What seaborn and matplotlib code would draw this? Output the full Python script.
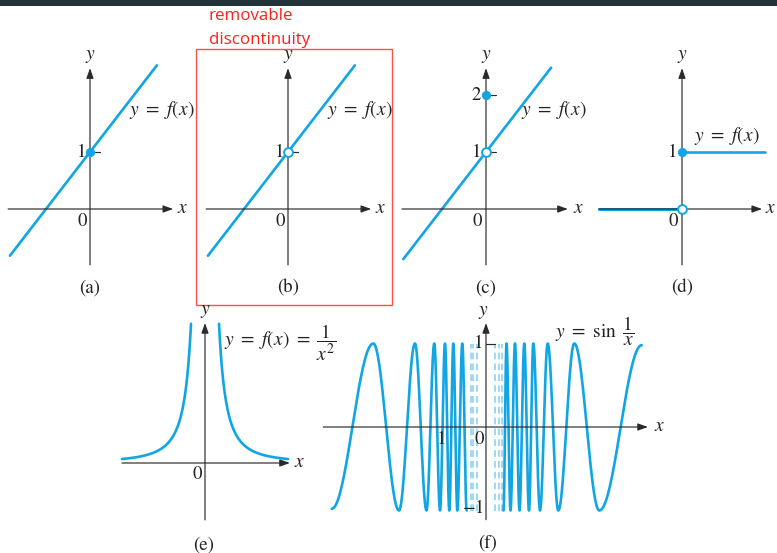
import numpy as np
import matplotlib
matplotlib.use("Agg")
import matplotlib.pyplot as plt
import seaborn as sns
from matplotlib.patches import Rectangle

sns.set_theme(style="white")
plt.rcParams["font.family"] = ["STIXGeneral", "DejaVu Serif"]
plt.rcParams["mathtext.fontset"] = "stix"

W, H = 777, 553
BLUE = "#12a5e3"
LIGHT = "#8fd2f1"
INK = "#2a2a2a"
RED = "#ff1f1f"

# ---- data -------------------------------------------------------------
# (a)-(c): y = x + 1 drawn between these end points
a_line_x = [-1.82, 1.52]
a_line_y = [-0.82, 2.52]
b_line_x = [-1.82, 1.52]
b_line_y = [-0.82, 2.52]
c_line_x = [-1.88, 1.48]
c_line_y = [-0.88, 2.48]

a_closed_x, a_closed_y = [0], [1]
b_open_x, b_open_y = [0], [1]
c_open_x, c_open_y = [0], [1]
c_closed_x, c_closed_y = [0], [2]

# (d): step function
d_left_x, d_left_y = [-1.89, 0.0], [0, 0]
d_right_x, d_right_y = [0.0, 1.89], [1, 1]
d_open_x, d_open_y = [0], [0]
d_closed_x, d_closed_y = [0], [1]

# (e): y = 1/x^2 on inner..outer on both sides of 0
e_inner, e_outer = 0.465, 2.76

# (f): turning points of the oscillating curve
f_left_x = [-3.507, -2.561, -1.977, -1.614, -1.352, -1.175, -1.045, -0.932,
            -0.834, -0.743, -0.652, -0.539, -0.439]
f_left_y = [-0.98, 1, -1, 1, -1, 1, -1, 1, -1, 1, -1, 1, -1]
f_right_x = [0.398, 0.466, 0.557, 0.659, 0.761, 0.870, 0.977, 1.075, 1.227,
             1.402, 1.643, 2.007, 2.575, 3.539]
f_right_y = [-1, 1, -1, 1, -1, 1, -1, 1, -1, 1, -1, 1, -1, 0.98]
f_dash_x = [-0.35, -0.285, -0.20, 0.20, 0.285, 0.36]

# ---- layout helpers ---------------------------------------------------
fig = plt.figure(figsize=(W / 100, H / 100), dpi=100)
fig.patch.set_facecolor("white")


def panel(box, origin, unit):
    left, top, right, bottom = box
    ox, oy = origin
    ux, uy = unit
    ax = fig.add_axes([left / W, 1 - bottom / H, (right - left) / W, (bottom - top) / H])
    ax.set_xlim((left - ox) / ux, (right - ox) / ux)
    ax.set_ylim((oy - bottom) / uy, (oy - top) / uy)
    ax.axis("off")
    ax.patch.set_alpha(0)
    return ax


def axes_arrows(ax, xr, yr, z=3):
    style = "-|>,head_length=0.5,head_width=0.18"
    ax.annotate("", xy=(xr[1], 0), xytext=(xr[0], 0),
                arrowprops=dict(arrowstyle=style, color=INK, lw=0.85,
                                shrinkA=0, shrinkB=0), zorder=z)
    ax.annotate("", xy=(0, yr[1]), xytext=(0, yr[0]),
                arrowprops=dict(arrowstyle=style, color=INK, lw=0.85,
                                shrinkA=0, shrinkB=0), zorder=z)


def tick(ax, x0, x1, y):
    ax.plot([x0, x1], [y, y], color=INK, lw=0.85, zorder=3)


def txt(px, py, s, size=13, ha="center", va="center", **kw):
    fig.text(px / W, 1 - py / H, s, size=size, ha=ha, va=va, color="#222222", **kw)


def curve(ax, x, y, lw=1.9, z=2):
    sns.lineplot(x=x, y=y, ax=ax, color=BLUE, lw=lw, sort=False,
                 estimator=None, legend=False, zorder=z)


def closed_pt(ax, x, y):
    sns.scatterplot(x=x, y=y, ax=ax, s=44, color=BLUE, edgecolor=BLUE,
                    linewidth=0, zorder=6, legend=False)


def open_pt(ax, x, y):
    sns.scatterplot(x=x, y=y, ax=ax, s=40, color="white", edgecolor=BLUE,
                    linewidth=1.4, zorder=6, legend=False)


def eased(xs, ys, n=40):
    ox, oy = [], []
    for i in range(len(xs) - 1):
        t = np.linspace(0, 1, n, endpoint=False)
        ox.append(xs[i] + (xs[i + 1] - xs[i]) * t)
        oy.append(ys[i] + (ys[i + 1] - ys[i]) * (1 - np.cos(np.pi * t)) / 2)
    ox.append([xs[-1]])
    oy.append([ys[-1]])
    return np.concatenate(ox), np.concatenate(oy)


FX = r"$y\ =\ f(x)$"
NUM = 13.5
LET = 14

# ---- top bar ----------------------------------------------------------
fig.patches.append(Rectangle((0, 1 - 6 / H), 1, 6 / H, transform=fig.transFigure,
                             facecolor="#22343a", edgecolor="none"))

# ---- (a) --------------------------------------------------------------
ax = panel((0, 40, 196, 300), (90, 209), (44, 57))
axes_arrows(ax, (-1.86, 1.89), (-0.98, 2.47))
curve(ax, a_line_x, a_line_y)
tick(ax, 0, 0.23, 1)
closed_pt(ax, a_closed_x, a_closed_y)
txt(90, 56, r"$y$", LET)
txt(183, 208, r"$x$", LET)
txt(82, 221, "0", NUM)
txt(82, 152, "1", NUM)
txt(162, 110, FX, LET)
txt(90, 288, "(a)", NUM)

# ---- (b) --------------------------------------------------------------
ax = panel((198, 40, 392, 300), (288, 209), (44, 57))
axes_arrows(ax, (-1.86, 1.89), (-0.98, 2.47))
curve(ax, b_line_x, b_line_y)
tick(ax, 0, 0.23, 1)
open_pt(ax, b_open_x, b_open_y)
txt(288, 56, r"$y$", LET)
txt(381, 208, r"$x$", LET)
txt(280, 221, "0", NUM)
txt(280, 152, "1", NUM)
txt(360, 110, FX, LET)
txt(288, 288, "(b)", NUM)

# ---- (c) --------------------------------------------------------------
ax = panel((394, 40, 590, 300), (486, 209), (44, 57))
axes_arrows(ax, (-1.91, 1.86), (-0.98, 2.47))
curve(ax, c_line_x, c_line_y)
tick(ax, 0, 0.23, 1)
tick(ax, 0, 0.23, 2)
open_pt(ax, c_open_x, c_open_y)
closed_pt(ax, c_closed_x, c_closed_y)
txt(486, 56, r"$y$", LET)
txt(579, 208, r"$x$", LET)
txt(477, 221, "0", NUM)
txt(477, 152, "1", NUM)
txt(476, 95, "2", NUM)
txt(554, 110, FX, LET)
txt(486, 288, "(c)", NUM)

# ---- (d) --------------------------------------------------------------
ax = panel((592, 40, 777, 300), (682, 209), (44, 57))
curve(ax, d_left_x, d_left_y, lw=2.2, z=1)
axes_arrows(ax, (-1.89, 1.82), (-0.98, 2.47))
curve(ax, d_right_x, d_right_y, lw=1.9, z=4)
open_pt(ax, d_open_x, d_open_y)
closed_pt(ax, d_closed_x, d_closed_y)
txt(682, 56, r"$y$", LET)
txt(771, 208, r"$x$", LET)
txt(673, 221, "0", NUM)
txt(673, 152, "1", NUM)
txt(727, 136, FX, LET)
txt(682, 288, "(d)", NUM)

# ---- red annotation ----------------------------------------------------
fig.patches.append(Rectangle((196 / W, 1 - 305 / H), 196 / W, 256 / H,
                             transform=fig.transFigure, facecolor="none",
                             edgecolor="#ff5050", lw=1.0))
fig.text(209 / W, 1 - 16 / H, "removable", family="Open Sans", size=12.2,
         color=RED, ha="left", va="center")
fig.text(209 / W, 1 - 40 / H, "discontinuity", family="Open Sans", size=12.2,
         color=RED, ha="left", va="center")

# ---- (e) --------------------------------------------------------------
ax = panel((110, 305, 330, 553), (205, 463), (30.1, 30.1))
axes_arrows(ax, (-2.76, 2.82), (-1.89, 4.65))
ex = np.linspace(e_inner, e_outer, 200)
curve(ax, -ex[::-1], 1 / ex[::-1] ** 2)
curve(ax, ex, 1 / ex ** 2)
txt(205, 311, r"$y$", LET)
txt(300, 462, r"$x$", LET)
txt(197, 474, "0", NUM)
txt(224, 343, r"$y\ =\ f(x)\ =\ \dfrac{1}{x^2}$", LET, ha="left")
txt(204, 545, "(e)", NUM)

# ---- (f) --------------------------------------------------------------
ax = panel((315, 305, 700, 553), (486, 427), (44, 83.5))
axes_arrows(ax, (-3.70, 3.68), (-1.11, 1.245))
lx, ly = eased(f_left_x, f_left_y)
rx, ry = eased(f_right_x, f_right_y)
curve(ax, lx, ly)
curve(ax, rx, ry)
ax.vlines(f_dash_x, -1, 1, colors=LIGHT, lw=1.2, linestyles=(0, (4, 2.5)), zorder=1)
tick(ax, 0, 0.2, 1)
txt(483, 312, r"$y$", LET)
txt(660, 426, r"$x$", LET)
txt(479, 439, "0", NUM)
txt(442, 439, "1", NUM)
txt(479, 343, "1", NUM)
txt(474, 508, "\u22121", NUM)
txt(595, 331, r"$y\ =\ \sin\ \dfrac{1}{x}$", LET)
txt(488, 543, "(f)", NUM)

fig.savefig("out.png", dpi=100)
